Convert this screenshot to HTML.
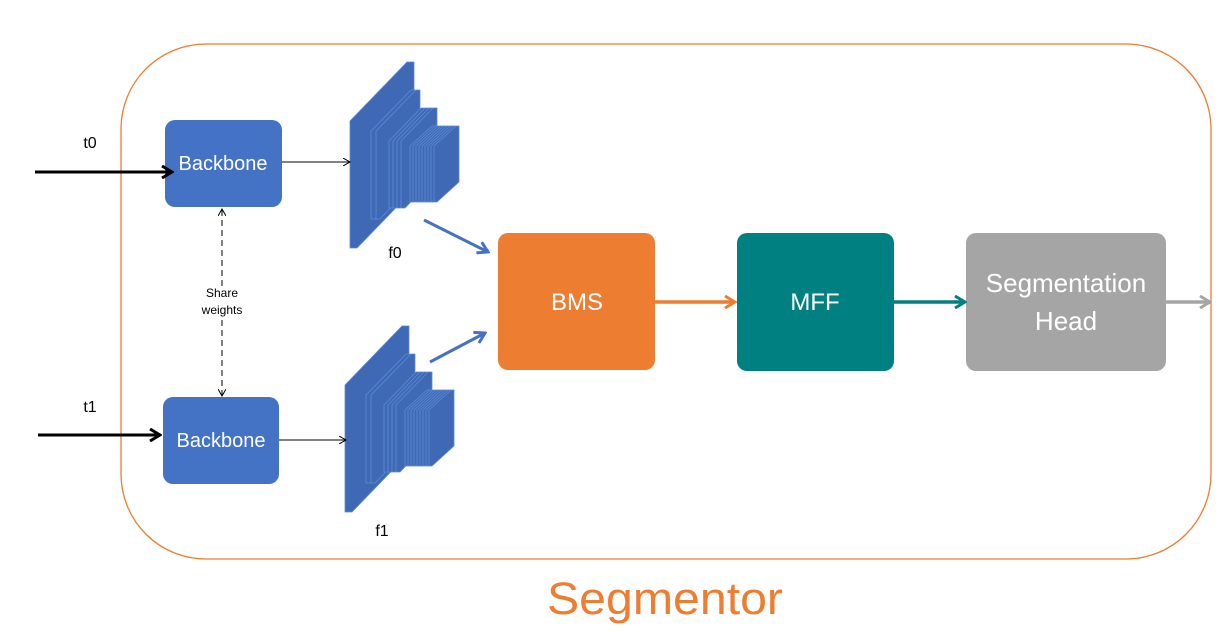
<!DOCTYPE html>
<html><head><meta charset="utf-8"><style>
body{margin:0;background:#fff;}
svg{display:block;font-family:"Liberation Sans",sans-serif;}
</style></head><body>
<svg xmlns="http://www.w3.org/2000/svg" width="1221" height="639" viewBox="0 0 1221 639">
<defs>
<marker id="ab" markerWidth="8" markerHeight="8" refX="7" refY="4" orient="auto" markerUnits="userSpaceOnUse"><path d="M0,0 L7,4 L0,8" fill="none" stroke="#000" stroke-width="1"/></marker>
<marker id="abk" markerWidth="14" markerHeight="14" refX="12" refY="7" orient="auto" markerUnits="userSpaceOnUse"><path d="M2,1 L12,7 L2,13" fill="none" stroke="#000" stroke-width="3"/></marker>
<marker id="abl" markerWidth="14" markerHeight="14" refX="12" refY="7" orient="auto" markerUnits="userSpaceOnUse"><path d="M2,1 L12,7 L2,13" fill="none" stroke="#4472C4" stroke-width="3"/></marker>
<marker id="aor" markerWidth="14" markerHeight="14" refX="12" refY="7" orient="auto" markerUnits="userSpaceOnUse"><path d="M2,1 L12,7 L2,13" fill="none" stroke="#ED7D31" stroke-width="3"/></marker>
<marker id="ate" markerWidth="14" markerHeight="14" refX="12" refY="7" orient="auto" markerUnits="userSpaceOnUse"><path d="M2,1 L12,7 L2,13" fill="none" stroke="#008080" stroke-width="3"/></marker>
<marker id="agr" markerWidth="14" markerHeight="14" refX="12" refY="7" orient="auto" markerUnits="userSpaceOnUse"><path d="M2,1 L12,7 L2,13" fill="none" stroke="#A5A5A5" stroke-width="3"/></marker>
</defs>
<g fill="#3F69B5" stroke="#5B8BD6" stroke-width="0.8">
<polygon points="350,248 350,121 407,62 414,62 414,189 357,248"/>
<polygon points="371,219 371,131 411,90 415,90 415,178 375,219"/>
<polygon points="376,219 376,131 416,90 420,90 420,178 380,219"/>
<polygon points="389,208 389,141 421,108 425,108 425,175 393,208"/>
<polygon points="393,208 393,141 425,108 429,108 429,175 397,208"/>
<polygon points="397,208 397,141 429,108 433,108 433,175 401,208"/>
<polygon points="401,208 401,141 433,108 437,108 437,175 405,208"/>
<polygon points="410,202 410,146 432,126 435,126 435,182 413,202"/>
<polygon points="413,202 413,146 435,126 438,126 438,182 416,202"/>
<polygon points="416,202 416,146 438,126 441,126 441,182 419,202"/>
<polygon points="419,202 419,146 441,126 444,126 444,182 422,202"/>
<polygon points="422,202 422,146 444,126 447,126 447,182 425,202"/>
<polygon points="425,202 425,146 447,126 450,126 450,182 428,202"/>
<polygon points="428,202 428,146 450,126 453,126 453,182 431,202"/>
<polygon points="431,202 431,146 453,126 456,126 456,182 434,202"/>
<polygon points="434,202 434,146 456,126 459,126 459,182 437,202"/>
</g>
<g transform="translate(-5,264)" fill="#3F69B5" stroke="#5B8BD6" stroke-width="0.8">
<polygon points="350,248 350,121 407,62 414,62 414,189 357,248"/>
<polygon points="371,219 371,131 411,90 415,90 415,178 375,219"/>
<polygon points="376,219 376,131 416,90 420,90 420,178 380,219"/>
<polygon points="389,208 389,141 421,108 425,108 425,175 393,208"/>
<polygon points="393,208 393,141 425,108 429,108 429,175 397,208"/>
<polygon points="397,208 397,141 429,108 433,108 433,175 401,208"/>
<polygon points="401,208 401,141 433,108 437,108 437,175 405,208"/>
<polygon points="410,202 410,146 432,126 435,126 435,182 413,202"/>
<polygon points="413,202 413,146 435,126 438,126 438,182 416,202"/>
<polygon points="416,202 416,146 438,126 441,126 441,182 419,202"/>
<polygon points="419,202 419,146 441,126 444,126 444,182 422,202"/>
<polygon points="422,202 422,146 444,126 447,126 447,182 425,202"/>
<polygon points="425,202 425,146 447,126 450,126 450,182 428,202"/>
<polygon points="428,202 428,146 450,126 453,126 453,182 431,202"/>
<polygon points="431,202 431,146 453,126 456,126 456,182 434,202"/>
<polygon points="434,202 434,146 456,126 459,126 459,182 437,202"/>
</g>
<rect x="121" y="44" width="1090" height="515" rx="85" fill="none" stroke="#ED7D31" stroke-width="1.3"/>
<rect x="165" y="120" width="117" height="87" rx="10" fill="#4472C4"/>
<rect x="163" y="397" width="116" height="87" rx="10" fill="#4472C4"/>
<rect x="498" y="233" width="157" height="137" rx="10" fill="#ED7D31"/>
<rect x="737" y="233" width="157" height="138" rx="10" fill="#008080"/>
<rect x="966" y="233" width="200" height="138" rx="10" fill="#A5A5A5"/>
<g fill="#fff" text-anchor="middle">
<text x="223" y="170" font-size="20">Backbone</text>
<text x="221" y="447" font-size="20">Backbone</text>
<text x="577" y="310" font-size="24">BMS</text>
<text x="815" y="310" font-size="24">MFF</text>
<text x="1066" y="292" font-size="26">Segmentation</text>
<text x="1066" y="330" font-size="26">Head</text>
</g>
<g font-size="16" fill="#000" text-anchor="middle">
<text x="90" y="148">t0</text>
<text x="90" y="412">t1</text>
<text x="395" y="258">f0</text>
<text x="382" y="536">f1</text>
</g>
<g font-size="12" fill="#000" text-anchor="middle">
<text x="222" y="297">Share</text>
<text x="222" y="314">weights</text>
</g>
<line x1="35" y1="172" x2="172" y2="172" stroke="#000" stroke-width="3" marker-end="url(#abk)"/>
<line x1="38" y1="435" x2="160" y2="435" stroke="#000" stroke-width="3" marker-end="url(#abk)"/>
<line x1="282" y1="162" x2="350" y2="162" stroke="#000" stroke-width="1" marker-end="url(#ab)"/>
<line x1="279" y1="440" x2="346" y2="440" stroke="#000" stroke-width="1" marker-end="url(#ab)"/>
<line x1="222" y1="286" x2="222" y2="209" stroke="#000" stroke-width="1" stroke-dasharray="6,4" marker-end="url(#ab)"/>
<line x1="222" y1="320" x2="222" y2="396" stroke="#000" stroke-width="1" stroke-dasharray="6,4" marker-end="url(#ab)"/>
<line x1="424" y1="220" x2="488" y2="252" stroke="#4472C4" stroke-width="3" marker-end="url(#abl)"/>
<line x1="430" y1="362" x2="485" y2="333" stroke="#4472C4" stroke-width="3" marker-end="url(#abl)"/>
<line x1="655" y1="302" x2="735" y2="302" stroke="#ED7D31" stroke-width="3.5" marker-end="url(#aor)"/>
<line x1="894" y1="302" x2="965" y2="302" stroke="#008080" stroke-width="3.5" marker-end="url(#ate)"/>
<line x1="1166" y1="302" x2="1210" y2="302" stroke="#A5A5A5" stroke-width="3.5" marker-end="url(#agr)"/>
<text x="547" y="614" font-size="45" fill="#ED7D31" textLength="236" lengthAdjust="spacingAndGlyphs">Segmentor</text>
</svg>
</body></html>
